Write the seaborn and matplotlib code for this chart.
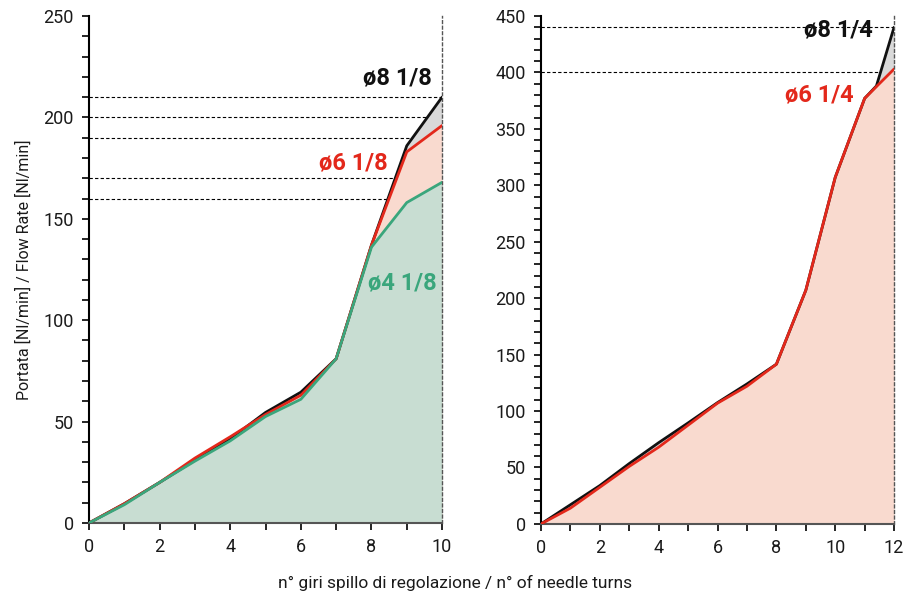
import numpy as np
import matplotlib
matplotlib.use('Agg')
import matplotlib.pyplot as plt
from matplotlib.ticker import MultipleLocator
import seaborn as sns

# left panel: 1/8 fittings
turns_18 = [0, 1, 2, 3, 4, 5, 6, 7, 8, 9, 10]
flow_o8_18 = [0, 9.5, 20, 31, 41.5, 54.5, 64.5, 81, 137, 186, 210]
flow_o6_18 = [0, 9.5, 20, 32, 42.5, 53.5, 63, 81, 137, 183, 196]
flow_o4_18 = [0, 9, 20, 30.5, 40.5, 52.5, 61, 81, 136, 158, 168]
ref_lines_18 = [210, 200, 190, 170, 160]

# right panel: 1/4 fittings
turns_o8_14 = [0, 1, 2, 3, 4, 5, 6, 7, 8, 9, 10, 11, 11.4, 12]
flow_o8_14 = [0, 17, 34, 53.5, 72, 89.5, 107.5, 124, 141.5, 207, 307, 377, 388, 440]
turns_o6_14 = [0, 1, 2, 3, 4, 5, 6, 7, 8, 9, 10, 11, 12]
flow_o6_14 = [0, 14, 32.5, 51, 68, 87.5, 107, 122, 141.5, 207, 307, 377, 403]
ref_lines_14 = [440, 400]

BLACK = '#111111'
RED = '#e3281b'
GREEN = '#3aa67c'
FILL_GRAY = '#d9d9d9'
FILL_RED = '#f9dacf'
FILL_GREEN = '#c8ddd2'

sns.set_style('ticks')
plt.rcParams['font.family'] = ['Roboto', 'DejaVu Sans']

fig = plt.figure(figsize=(9.1, 5.99), dpi=100)
ax1 = fig.add_axes([0.0978, 0.1269, 0.388, 0.8464])
ax2 = fig.add_axes([0.5945, 0.1253, 0.388, 0.8481])


def style_axis(ax, xmax, ymax, ymajor):
    ax.set_xlim(0, xmax)
    ax.set_ylim(0, ymax)
    ax.xaxis.set_major_locator(MultipleLocator(2))
    ax.xaxis.set_minor_locator(MultipleLocator(1))
    ax.yaxis.set_major_locator(MultipleLocator(ymajor))
    ax.yaxis.set_minor_locator(MultipleLocator(10))
    ax.tick_params(which='both', direction='out', length=5, width=1.2,
                   color='black', labelsize=13, pad=6, labelcolor='#1a1a1a')
    ax.spines['top'].set_visible(False)
    ax.spines['right'].set_linestyle((0, (2, 2)))
    ax.spines['right'].set_color('#555555')
    ax.spines['right'].set_linewidth(1.0)
    ax.spines['left'].set_color('black')
    ax.spines['left'].set_linewidth(1.5)
    ax.spines['bottom'].set_color('#555555')
    ax.spines['bottom'].set_linewidth(1.5)
    ax.set_xlabel('')
    ax.set_ylabel('')


# left panel
for y in ref_lines_18:
    ax1.axhline(y, color='black', lw=0.8, ls=(0, (3, 2)), zorder=1)
ax1.fill_between(turns_18, flow_o8_18, color=FILL_GRAY, lw=0, zorder=2)
ax1.fill_between(turns_18, flow_o6_18, color=FILL_RED, lw=0, zorder=2)
ax1.fill_between(turns_18, flow_o4_18, color=FILL_GREEN, lw=0, zorder=2)
sns.lineplot(x=turns_18, y=flow_o8_18, ax=ax1, color=BLACK, lw=2, zorder=3)
sns.lineplot(x=turns_18, y=flow_o6_18, ax=ax1, color=RED, lw=2, zorder=4)
sns.lineplot(x=turns_18, y=flow_o4_18, ax=ax1, color=GREEN, lw=2, zorder=5)
style_axis(ax1, 10, 250, 50)
ax1.set_ylabel('Portata [Nl/min] / Flow Rate [Nl/min]', fontsize=11.5,
               labelpad=8, color='#1a1a1a')

lab = dict(fontsize=17, fontweight='bold', ha='right', va='center', zorder=6)
ax1.text(9.72, 219.5, 'ø8 1/8', color=BLACK, **lab)
ax1.text(8.47, 177.5, 'ø6 1/8', color=RED, **lab)
ax1.text(9.86, 118.5, 'ø4 1/8', color=GREEN, **lab)

# right panel
for y in ref_lines_14:
    ax2.axhline(y, color='black', lw=0.8, ls=(0, (3, 2)), zorder=1)
ax2.fill_between(turns_o8_14, flow_o8_14, color=FILL_GRAY, lw=0, zorder=2)
ax2.fill_between(turns_o6_14, flow_o6_14, color=FILL_RED, lw=0, zorder=2)
sns.lineplot(x=turns_o8_14, y=flow_o8_14, ax=ax2, color=BLACK, lw=2, zorder=3)
sns.lineplot(x=turns_o6_14, y=flow_o6_14, ax=ax2, color=RED, lw=2, zorder=4)
style_axis(ax2, 12, 450, 50)

ax2.text(11.29, 437.5, 'ø8 1/4', color=BLACK, **lab)
ax2.text(10.61, 380, 'ø6 1/4', color=RED, **lab)

fig.text(0.5, 0.027, 'n° giri spillo di regolazione / n° of needle turns',
         ha='center', va='center', fontsize=12.5, color='#1a1a1a')

fig.savefig('out.png', dpi=100)
